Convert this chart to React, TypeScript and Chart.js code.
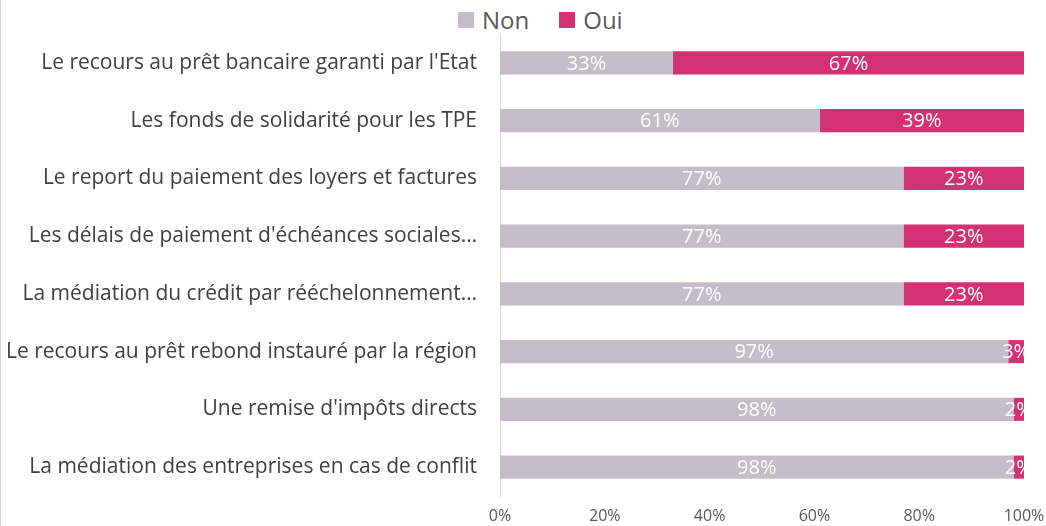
import React, { useEffect, useRef } from "react";
import { Chart, registerables } from "chart.js";

Chart.register(...registerables);

const categories = [
  "Le recours au prêt bancaire garanti par l'Etat",
  "Les fonds de solidarité pour les TPE",
  "Le report du paiement des loyers et factures",
  "Les délais de paiement d'échéances sociales…",
  "La médiation du crédit par rééchelonnement…",
  "Le recours au prêt rebond instauré par la région",
  "Une remise d'impôts directs",
  "La médiation des entreprises en cas de conflit",
];
const nonValues = [33, 61, 77, 77, 77, 97, 98, 98];
const ouiValues = [67, 39, 23, 23, 23, 3, 2, 2];
const seriesNames = ["Non", "Oui"];
const seriesColors = ["#C4BCC8", "#D33174"];

const FONT = "'Open Sans', sans-serif";

const barLabels = {
  id: "barLabels",
  afterDatasetsDraw(chart: any) {
    const ctx = chart.ctx;
    ctx.save();
    ctx.fillStyle = "#FFFFFF";
    ctx.font = `20px ${FONT}`;
    ctx.textAlign = "center";
    ctx.textBaseline = "middle";
    chart.data.datasets.forEach((ds: any, di: number) => {
      const meta = chart.getDatasetMeta(di);
      meta.data.forEach((el: any, i: number) => {
        const p = el.getProps(["x", "y", "base"], true);
        const cx = (p.x + p.base) / 2;
        ctx.fillText(`${ds.data[i]}%`, cx, p.y + 1);
      });
    });
    ctx.restore();
  },
};

export default function App() {
  const canvasRef = useRef<HTMLCanvasElement | null>(null);

  useEffect(() => {
    if (!canvasRef.current) return;
    const chart = new Chart(canvasRef.current, {
      type: "bar",
      data: {
        labels: categories,
        datasets: [
          {
            label: seriesNames[0],
            data: nonValues,
            backgroundColor: seriesColors[0],
            barPercentage: 0.4,
            categoryPercentage: 1,
          },
          {
            label: seriesNames[1],
            data: ouiValues,
            backgroundColor: seriesColors[1],
            barPercentage: 0.4,
            categoryPercentage: 1,
          },
        ],
      },
      options: {
        indexAxis: "y",
        animation: false,
        responsive: true,
        maintainAspectRatio: false,
        layout: { padding: { top: 34, right: 22, bottom: 0, left: 0 } },
        plugins: {
          legend: { display: false },
          tooltip: { enabled: false },
        },
        scales: {
          x: {
            stacked: true,
            min: 0,
            max: 100,
            afterFit: (scale: any) => {
              scale.height = 30;
              scale.paddingRight = 0;
            },
            ticks: {
              stepSize: 20,
              callback: (v: any) => `${v}%`,
              color: "#595959",
              font: { family: FONT, size: 16 },
              padding: 11,
            },
            grid: { display: false, drawTicks: false },
            border: { display: false },
          },
          y: {
            stacked: true,
            afterFit: (scale: any) => {
              scale.width = 500;
              scale.paddingTop = 0;
              scale.paddingBottom = 0;
            },
            ticks: {
              color: "#404040",
              font: { family: FONT, size: 21 },
              padding: 23,
            },
            grid: { display: false, drawTicks: false },
            border: { display: true, color: "#D9D9D9", width: 1 },
          },
        },
      },
      plugins: [barLabels],
    });
    return () => chart.destroy();
  }, []);

  const legendText: React.CSSProperties = {
    fontFamily: FONT,
    fontSize: 24,
    color: "#595959",
    lineHeight: "32px",
  };

  return (
    <div
      style={{
        position: "fixed",
        left: 0,
        top: 0,
        width: 1046,
        height: 526,
        background: "#fff",
      }}
    >
      <div
        style={{
          position: "absolute",
          left: 0,
          top: 0,
          width: 1,
          height: 526,
          background: "#D9D9D9",
        }}
      />
      <div
        style={{
          position: "absolute",
          left: 458,
          top: 4,
          height: 32,
          display: "flex",
          alignItems: "center",
        }}
      >
        <span style={{ width: 16, height: 16, background: seriesColors[0], marginRight: 8 }} />
        <span style={{ ...legendText, marginRight: 30 }}>{seriesNames[0]}</span>
        <span style={{ width: 16, height: 16, background: seriesColors[1], marginRight: 8 }} />
        <span style={legendText}>{seriesNames[1]}</span>
      </div>
      <canvas ref={canvasRef} width={1046} height={526} style={{ position: "absolute", left: 0, top: 0 }} />
    </div>
  );
}
